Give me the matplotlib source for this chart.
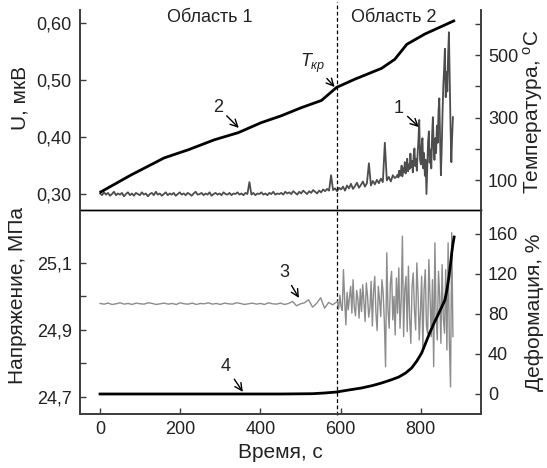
import numpy as np
import matplotlib
matplotlib.use('Agg')
import matplotlib.pyplot as plt
from matplotlib.transforms import blended_transform_factory

plt.rcParams['font.family'] = ['Liberation Sans', 'DejaVu Sans']
plt.rcParams['mathtext.fontset'] = 'custom'
plt.rcParams['mathtext.rm'] = 'Liberation Sans'
plt.rcParams['mathtext.it'] = 'Liberation Sans:italic'

# ---------------- data ----------------
# curve 1: signal U, mV (every 5 s from 0 to 740 s, then every 2 s to 880 s)
u_early = [
    0.301, 0.298, 0.303, 0.299, 0.302, 0.297, 0.300, 0.304, 0.298, 0.301,
    0.299, 0.302, 0.296, 0.300, 0.303, 0.298, 0.301, 0.297, 0.302, 0.300,
    0.298, 0.303, 0.299, 0.301, 0.296, 0.300, 0.302, 0.298, 0.304, 0.299,
    0.301, 0.297, 0.300, 0.303, 0.298, 0.301, 0.299, 0.302, 0.297, 0.300,
    0.303, 0.299, 0.301, 0.298, 0.302, 0.300, 0.297, 0.301, 0.304, 0.299,
    0.300, 0.302, 0.298, 0.301, 0.299, 0.303, 0.297, 0.300, 0.302, 0.299,
    0.301, 0.298, 0.303, 0.300, 0.299, 0.302, 0.298, 0.301, 0.300, 0.303,
    0.299, 0.301, 0.298, 0.302, 0.300, 0.321, 0.299, 0.302, 0.298, 0.301,
    0.300, 0.303, 0.299, 0.301, 0.298, 0.302, 0.300, 0.304, 0.299, 0.301,
    0.300,
    0.302, 0.299, 0.304, 0.301, 0.303, 0.300, 0.305, 0.302, 0.299, 0.304,
    0.301, 0.306, 0.303, 0.300, 0.305, 0.302, 0.307, 0.304, 0.301, 0.306,
    0.303, 0.308, 0.305, 0.309, 0.306, 0.333, 0.307, 0.310, 0.305, 0.311,
    0.308, 0.313, 0.306, 0.315, 0.310, 0.318, 0.309, 0.314, 0.320, 0.311,
    0.316, 0.322, 0.313, 0.319, 0.354, 0.315, 0.323, 0.317, 0.325, 0.319,
    0.327, 0.321, 0.390, 0.324, 0.330, 0.322, 0.333, 0.328, 0.331,
]
u_late = [
    0.334, 0.329, 0.341, 0.332, 0.338, 0.350, 0.331, 0.345, 0.339, 0.356,
    0.336, 0.348, 0.362, 0.340, 0.352, 0.344, 0.371, 0.347, 0.358, 0.338,
    0.366, 0.380, 0.349, 0.362, 0.341, 0.372, 0.395, 0.430, 0.360, 0.352,
    0.385, 0.398, 0.345, 0.372, 0.332, 0.360, 0.300, 0.345, 0.392, 0.410,
    0.355, 0.378, 0.345, 0.402, 0.435, 0.380, 0.360, 0.398, 0.372, 0.420,
    0.390, 0.445, 0.468, 0.395, 0.333, 0.380, 0.440, 0.490, 0.520, 0.555,
    0.470, 0.514, 0.480, 0.545, 0.584, 0.500, 0.420, 0.356, 0.400, 0.435,
]
u_time = np.concatenate([np.linspace(0, 740, len(u_early)),
                         np.linspace(742, 880, len(u_late))])
u_vals = u_early + u_late

# curve 2: temperature, °C
temp_time = [2, 77, 160, 220, 285, 345, 402, 452, 502, 552, 590, 635, 702, 735, 765, 810, 882]
temp_vals = [62, 116, 171, 197, 229, 252, 284, 306, 332, 355, 397, 423, 458, 487, 535, 568, 610]

# curve 3: stress, MPa
stress_base = [
    24.979, 24.977, 24.980, 24.976, 24.978, 24.981, 24.977, 24.979, 24.976, 24.980,
    24.978, 24.977, 24.981, 24.979, 24.976, 24.978, 24.980, 24.977, 24.979, 24.976,
    24.981, 24.978, 24.977, 24.980, 24.976, 24.979, 24.978, 24.981, 24.977, 24.979,
    24.976, 24.980, 24.978, 24.977, 24.981, 24.979, 24.976, 24.978, 24.980, 24.977,
    24.979, 24.976, 24.981, 24.978, 24.977, 24.980, 24.976, 24.979, 24.985, 24.972,
    24.978, 24.981, 24.990, 24.968, 24.979, 24.996, 24.965, 24.982, 24.975,
]
stress_noisy = [
    24.985, 24.962, 25.004, 24.971, 24.958, 25.080, 24.990, 24.915, 25.012, 24.960,
    24.998, 25.030, 24.950, 25.050, 24.968, 24.942, 25.018, 24.992, 24.935, 25.022,
    24.955, 25.035, 24.985, 24.925, 25.040, 25.002, 24.938, 24.965, 25.045, 24.912,
    25.015, 25.060, 24.950, 24.898, 25.030, 24.990, 24.940, 25.050, 25.010, 24.925,
    24.790, 25.130, 24.960, 24.905, 25.040, 25.075, 24.930, 25.000, 24.885, 25.055,
    24.950, 25.085, 24.905, 24.990, 25.180, 24.880, 25.020, 25.060, 24.895,
    25.090, 24.935, 24.860, 25.030, 25.070, 24.960, 24.900, 25.100, 25.010, 24.870,
    24.955, 25.060, 24.840, 25.020, 25.080, 24.910, 24.890, 25.110, 24.990, 24.880,
    25.050, 24.790, 25.160, 24.940, 24.870, 25.075, 25.000, 24.860, 25.095, 24.935,
    24.890, 25.080, 24.840, 25.160, 24.870, 24.730, 25.190, 24.880,
]
stress_time = np.concatenate([np.linspace(0, 580, len(stress_base)),
                              np.linspace(592, 880, len(stress_noisy))])
stress_vals = stress_base + stress_noisy

# curve 4: deformation, %
deform_time = [0, 450, 530, 560, 590, 620, 652, 680, 702, 725, 745, 762, 777, 790,
               802, 812, 822, 833, 845, 852, 860, 865, 870, 874, 877, 880, 883]
deform_vals = [0, 0, 0.3, 1, 2, 4, 6, 8.5, 11, 14, 17, 21, 26, 33,
               41, 51, 61, 71, 81, 87, 94, 104, 117, 130, 141, 150, 157]

t_crit = 590

x_ticks = [0, 200, 400, 600, 800]
u_ticks = [0.30, 0.40, 0.50, 0.60]
u_ticklabels = ['0,30', '0,40', '0,50', '0,60']
temp_ticks = [100, 200, 300, 400, 500, 600]
temp_ticklabels = ['100', '', '300', '', '500', '']
stress_ticks = [24.7, 24.9, 25.1]
stress_ticklabels = ['24,7', '24,9', '25,1']
stress_minor = [24.8, 25.0]
deform_ticks = [0, 40, 80, 120, 160]

# ---------------- figure ----------------
W, H = 547, 468
fig = plt.figure(figsize=(W / 100, H / 100), dpi=100)
L, R = 80 / W, 481 / W
ax1 = fig.add_axes([L, 1 - 210 / H, R - L, 200 / H])
ax3 = fig.add_axes([L, 1 - 414 / H, R - L, 204 / H], sharex=ax1)
ax2 = ax1.twinx()
ax4 = ax3.twinx()

spine_c = '#3c3c3c'
txt_c = '#222222'
fs_tick = 13
fs_lab = 15

for ax in (ax1, ax2, ax3, ax4):
    for s in ax.spines.values():
        s.set_color(spine_c)
        s.set_linewidth(1.2)
    ax.spines['top'].set_visible(False)
    ax.tick_params(direction='in', length=4, width=1.0, color=spine_c,
                   labelsize=fs_tick, labelcolor=txt_c)
    ax.patch.set_visible(False)
for ax in (ax1, ax2):
    ax.spines['bottom'].set_color('black')
    ax.spines['bottom'].set_linewidth(1.0)
    ax.tick_params(axis='x', bottom=False, labelbottom=False)

# curves
ax1.plot(u_time, u_vals, color='#4d4d4d', lw=1.3)
ax2.plot(temp_time, temp_vals, color='black', lw=2.0)
ax3.plot(stress_time, stress_vals, color='#8c8c8c', lw=1.0)
ax4.plot(deform_time, deform_vals, color='black', lw=2.0)

# limits / ticks
ax1.set_xlim(-50, 950)
ax1.set_ylim(0.272, 0.623)
ax2.set_ylim(4, 645)
ax3.set_ylim(24.649, 25.258)
ax4.set_ylim(-20, 184)

ax1.set_yticks(u_ticks)
ax1.set_yticklabels(u_ticklabels)
ax2.set_yticks(temp_ticks)
ax2.set_yticklabels(temp_ticklabels)
ax3.set_yticks(stress_ticks)
ax3.set_yticklabels(stress_ticklabels)
ax3.set_yticks(stress_minor, minor=True)
ax3.tick_params(axis='y', which='minor', direction='in', length=4, width=1.0, color=spine_c)
ax4.set_yticks(deform_ticks)
ax3.set_xticks(x_ticks)

ax1.tick_params(axis='y', pad=6)
ax3.tick_params(axis='y', pad=6)
ax2.tick_params(axis='y', pad=5)
ax4.tick_params(axis='y', pad=5)
ax3.tick_params(axis='x', pad=5)

# critical time dashed line
tr = blended_transform_factory(ax1.transData, ax1.transAxes)
ax1.plot([t_crit, t_crit], [-1.025, 1.04], transform=tr, clip_on=False,
         color='black', lw=0.9, ls=(0, (3, 2)), zorder=5)

# texts
ax1.text(274, 0.6105, 'Область 1', ha='center', va='center', fontsize=13, color=txt_c)
ax1.text(733, 0.6105, 'Область 2', ha='center', va='center', fontsize=13, color=txt_c)

arrow = dict(arrowstyle='->', lw=1.0, color='black', shrinkA=1, shrinkB=0)
ax2.annotate('2', xy=(346, 267), xytext=(294, 334), fontsize=13, ha='center', va='center',
             arrowprops=arrow, color=txt_c)
ax2.annotate(r'$\mathit{T}_{\mathit{кр}}$', xy=(585, 398), xytext=(531, 475), fontsize=13,
             ha='center', va='center', arrowprops=arrow, color=txt_c)
ax1.annotate('1', xy=(795, 0.4175), xytext=(745, 0.451), fontsize=13, ha='center', va='center',
             arrowprops=arrow, color=txt_c)
ax3.annotate('3', xy=(496, 24.9955), xytext=(459, 25.070), fontsize=13, ha='center', va='center',
             arrowprops=arrow, color=txt_c)
ax3.annotate('4', xy=(356, 24.715), xytext=(314, 24.790), fontsize=13, ha='center', va='center',
             arrowprops=arrow, color=txt_c)

# axis labels
fig.text(20 / W, 1 - 98 / H, 'U, мкВ', rotation=90, ha='center', va='center', fontsize=fs_lab, color=txt_c)
fig.text(18 / W, 1 - 296 / H, 'Напряжение, МПа', rotation=90, ha='center', va='center', fontsize=fs_lab, color=txt_c)
fig.text(533 / W, 1 - 112 / H, 'Температура, $^{\\mathrm{o}}$C', rotation=90, ha='center', va='center', fontsize=fs_lab, color=txt_c)
fig.text(535 / W, 1 - 312 / H, 'Деформация, %', rotation=90, ha='center', va='center', fontsize=fs_lab, color=txt_c)
fig.text(280 / W, 1 - 452 / H, 'Время, с', ha='center', va='center', fontsize=fs_lab, color=txt_c)

fig.savefig('out.png', dpi=100)
